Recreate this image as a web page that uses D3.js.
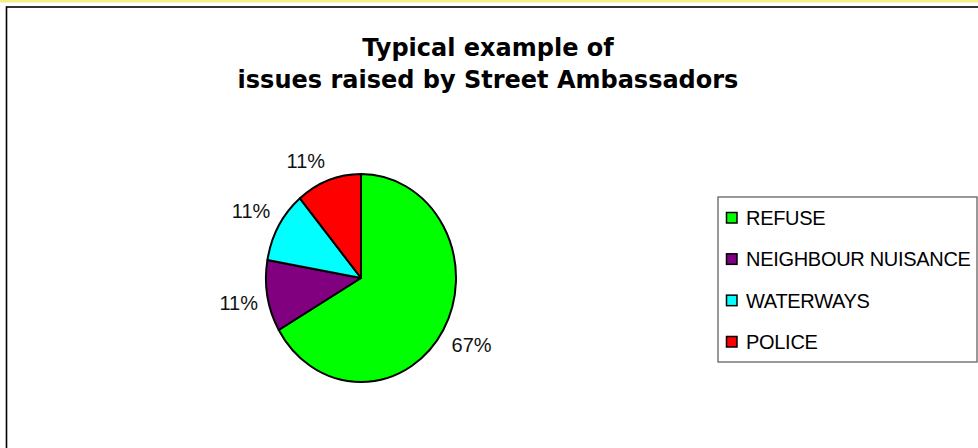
<!DOCTYPE html>
<html>
<head>
<meta charset="utf-8">
<script src="https://cdn.jsdelivr.net/npm/d3@7"></script>
<style>
  html, body { margin: 0; padding: 0; background: #fff; }
  svg { display: block; }
</style>
</head>
<body>
<svg id="chart" width="978" height="448"></svg>
<script>
// ---- data ----
const categories = ["REFUSE", "NEIGHBOUR NUISANCE", "WATERWAYS", "POLICE"];
const values = [6, 1, 1, 1];
const colors = ["#00ff00", "#800080", "#00ffff", "#ff0000"];
const titleLines = ["Typical example of", "issues raised by Street Ambassadors"];

const svg = d3.select("#chart");
const W = 978, H = 448;

// top yellow strip
svg.append("rect").attr("x", 0).attr("y", 0).attr("width", W).attr("height", 2.5)
  .attr("fill", "#f2ee84");

// chart frame (extends beyond the right / bottom edges)
svg.append("rect").attr("x", 6.5).attr("y", 7).attr("width", W + 20).attr("height", H + 20)
  .attr("fill", "#fff").attr("stroke", "#000").attr("stroke-width", 1.6);

// title
const title = svg.append("text")
  .attr("text-anchor", "middle")
  .attr("font-family", "'Comic Sans MS', 'DejaVu Sans', sans-serif")
  .attr("font-weight", "bold")
  .attr("font-size", 24)
  .attr("fill", "#000");
titleLines.forEach((t, i) => {
  title.append("tspan").attr("x", 488).attr("y", 56 + i * 32).text(t);
});

// pie
const cx = 361, cy = 278, rx = 95, ry = 104, R = 100;
const pie = d3.pie().sort(null).value(d => d)(values);
const arc = d3.arc().innerRadius(0).outerRadius(R);
const total = d3.sum(values);

const g = svg.append("g").attr("transform", `translate(${cx},${cy}) scale(${rx / R},${ry / R})`);
g.selectAll("path").data(pie).join("path")
  .attr("d", arc)
  .attr("fill", (d, i) => colors[i])
  .attr("stroke", "#000")
  .attr("stroke-width", 2)
  .attr("vector-effect", "non-scaling-stroke")
  .attr("stroke-linejoin", "round");

// labels
const fmt = v => Math.round(v / total * 100) + "%";
const clamp = v => Math.max(-1, Math.min(1, v));
pie.forEach((d, i) => {
  const a = (d.startAngle + d.endAngle) / 2;
  const sx = Math.sin(a), sy = -Math.cos(a);
  const t = svg.append("text")
    .attr("font-family", "'Liberation Sans', Arial, sans-serif")
    .attr("font-size", 20)
    .attr("fill", "#111")
    .attr("text-anchor", "middle")
    .attr("dominant-baseline", "central")
    .text(fmt(d.data));
  const bb = t.node().getBBox();
  const px = cx + rx * 1.1 * sx + bb.width / 2 * clamp(3 * sx);
  const py = cy + ry * 1.1 * sy + bb.height / 2 * 0.85 * clamp(3 * sy);
  t.attr("x", px).attr("y", py);
});

// legend
const lg = svg.append("g");
lg.append("rect").attr("x", 718).attr("y", 197).attr("width", 259).attr("height", 165)
  .attr("fill", "#fff").attr("stroke", "#555").attr("stroke-width", 1.2);
const legendY = d3.scalePoint().domain(categories).range([218, 342]);
categories.forEach((c, i) => {
  const y = legendY(c);
  lg.append("rect").attr("x", 726.5).attr("y", y - 5.5).attr("width", 10.5).attr("height", 10.5)
    .attr("fill", colors[i]).attr("stroke", "#000").attr("stroke-width", 1.5);
  lg.append("text").attr("x", 746).attr("y", y)
    .attr("dominant-baseline", "central")
    .attr("font-family", "'Liberation Sans', Arial, sans-serif")
    .attr("font-size", 20)
    .attr("letter-spacing", -0.3)
    .attr("fill", "#000")
    .text(c);
});
</script>
</body>
</html>
